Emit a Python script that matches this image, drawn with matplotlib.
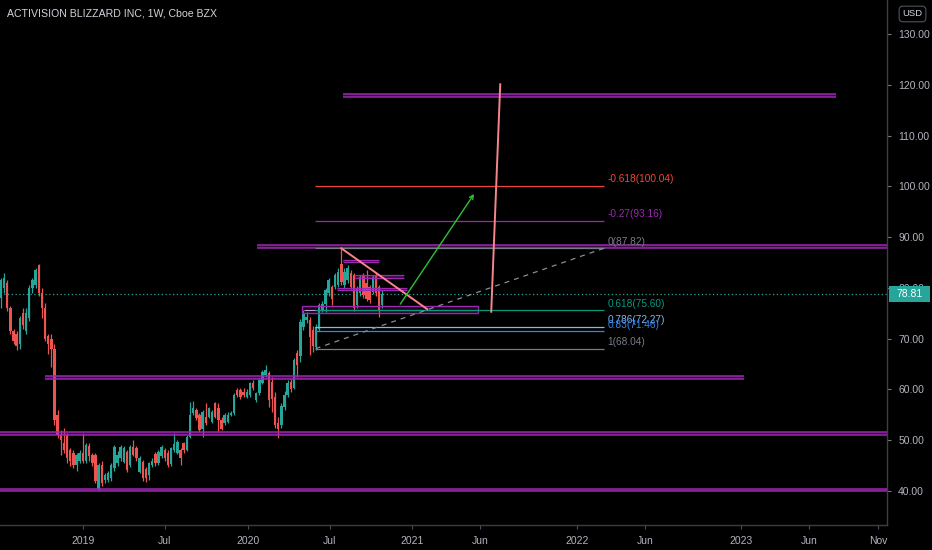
import matplotlib
matplotlib.use("Agg")
import matplotlib.pyplot as plt
import matplotlib.dates as mdates
import matplotlib.transforms as mtransforms
from matplotlib.patches import Rectangle
import numpy as np
import pandas as pd

plt.rcParams['font.family'] = ['Liberation Sans', 'DejaVu Sans']

# ---------------- data ----------------
title = "ACTIVISION BLIZZARD INC, 1W, Cboe BZX"
first_week = "2018-07-02"

opens = [78.0, 80.0, 81.0, 76.0, 71.5, 71.0, 69.0, 75.0, 71.5, 74.0,
         80.0, 80.5, 84.5, 79.0, 76.0, 70.5, 70.0, 68.0, 55.0, 51.0,
         49.5, 51.0, 48.0, 47.5, 45.2, 46.0, 47.5, 46.0, 48.8, 47.0,
         47.0, 40.3, 45.1, 42.2, 42.2, 42.5, 44.5, 45.5, 46.4, 45.8,
         47.7, 45.1, 48.7, 48.4, 43.8, 45.8, 44.3, 43.1, 45.1, 47.3,
         45.5, 46.8, 48.1, 47.5, 45.4, 48.1, 47.5, 48.1, 49.4, 48.1,
         50.7, 55.3, 55.9, 55.0, 52.3, 54.6, 54.6, 53.6, 57.3, 56.3,
         54.0, 53.3, 53.6, 55.0, 55.3, 59.9, 59.9, 59.5, 58.6, 58.9,
         61.2, 57.9, 59.2, 61.2, 62.8, 63.2, 61.5, 58.5, 53.3, 53.0,
         56.5, 59.0, 61.5, 60.3, 67.2, 66.5, 72.3, 73.7, 73.7, 71.7,
         68.4, 72.0, 75.6, 76.9, 78.9, 80.2, 80.2, 80.6, 84.8, 80.6,
         81.5, 82.9, 82.5, 76.6, 78.9, 82.5, 80.9, 80.2, 79.2, 82.5,
         80.2, 76.6]
highs = [82.0, 83.0, 81.5, 76.5, 72.0, 71.5, 74.5, 76.0, 76.0, 80.5,
         82.0, 84.0, 84.7, 80.0, 77.0, 71.0, 71.0, 69.0, 56.0, 52.0,
         52.5, 51.5, 48.5, 48.0, 47.5, 48.0, 51.5, 49.5, 49.5, 47.5,
         47.5, 45.5, 46.0, 43.5, 44.0, 45.5, 49.0, 47.8, 49.0, 48.8,
         48.1, 49.0, 50.0, 48.8, 46.8, 46.2, 44.8, 45.8, 46.5, 47.6,
         48.0, 49.0, 48.4, 48.0, 48.7, 51.5, 50.0, 48.5, 49.7, 51.0,
         57.5, 57.8, 56.3, 55.3, 56.0, 57.3, 56.6, 56.0, 57.6, 57.3,
         54.5, 55.3, 55.5, 55.8, 59.3, 60.3, 60.2, 60.3, 60.0, 61.5,
         61.8, 59.5, 62.2, 63.8, 64.8, 63.6, 62.5, 59.5, 54.5, 57.3,
         59.6, 61.9, 62.0, 66.2, 67.8, 73.8, 75.6, 75.2, 74.3, 72.5,
         72.8, 77.0, 77.5, 80.0, 82.0, 80.6, 83.0, 84.0, 87.8, 84.0,
         84.5, 83.5, 83.0, 80.3, 82.6, 83.0, 83.5, 80.6, 82.6, 83.0,
         80.6, 79.5]
lows = [76.0, 79.0, 75.5, 71.0, 69.0, 67.8, 68.0, 72.0, 71.0, 73.5,
        79.0, 80.0, 78.5, 74.0, 69.5, 67.0, 64.5, 53.0, 50.5, 47.0,
        47.5, 45.5, 45.0, 44.5, 44.0, 45.5, 45.5, 45.5, 46.0, 45.0,
        41.5, 39.9, 41.0, 41.5, 41.8, 42.0, 44.0, 45.0, 46.0, 45.5,
        43.8, 44.8, 46.8, 46.0, 43.5, 42.0, 41.8, 42.2, 44.8, 45.0,
        45.2, 46.5, 46.0, 44.8, 45.0, 47.6, 47.2, 45.1, 47.5, 47.8,
        50.5, 55.0, 54.0, 51.7, 50.7, 53.0, 54.3, 53.3, 54.3, 51.7,
        52.0, 53.0, 53.3, 54.7, 55.0, 58.5, 58.2, 58.5, 58.3, 58.6,
        59.8, 57.5, 59.0, 61.0, 62.5, 56.5, 55.5, 52.5, 50.4, 52.5,
        56.0, 58.5, 59.4, 60.0, 62.5, 65.5, 71.8, 73.0, 66.8, 67.4,
        67.8, 71.5, 75.2, 75.3, 78.5, 76.6, 79.8, 80.2, 80.5, 80.0,
        81.0, 79.8, 75.5, 76.0, 78.5, 78.0, 77.5, 77.0, 78.8, 78.5,
        74.3, 76.0]
closes = [81.5, 82.0, 76.0, 71.5, 69.5, 68.5, 74.0, 72.7, 75.0, 80.0,
          81.5, 83.5, 79.0, 76.0, 70.0, 69.0, 68.0, 54.0, 51.0, 50.0,
          48.0, 46.5, 46.0, 45.2, 47.0, 47.5, 46.0, 49.0, 46.8, 45.5,
          42.0, 45.1, 41.5, 43.1, 43.5, 45.1, 48.7, 47.1, 48.7, 48.4,
          44.1, 48.7, 47.1, 46.4, 46.4, 42.5, 42.6, 45.5, 46.0, 45.5,
          47.7, 48.7, 46.5, 45.1, 48.4, 49.3, 49.7, 46.4, 48.1, 50.7,
          55.0, 56.3, 54.3, 52.0, 55.6, 53.3, 56.3, 55.6, 54.6, 54.0,
          52.3, 55.0, 55.0, 55.3, 58.9, 58.9, 58.6, 58.9, 59.5, 61.2,
          60.2, 59.2, 61.9, 63.5, 63.8, 58.0, 58.2, 53.0, 52.3, 56.8,
          59.0, 61.2, 60.0, 65.8, 64.8, 73.3, 75.0, 74.3, 70.4, 68.5,
          72.3, 76.6, 76.9, 79.6, 81.5, 77.9, 82.5, 83.2, 81.2, 83.2,
          84.0, 80.2, 76.0, 79.9, 82.2, 78.6, 77.9, 77.6, 82.2, 78.9,
          75.6, 78.81]
last_price = 78.81

# horizontal zones drawn by the author: (start, end, low, high); None = chart edge
zone_starts = ["2020-07-31", "2020-01-22", "2018-10-09", None, None]
zone_ends = ["2023-07-31", None, "2023-01-07", None, None]
zone_lows = [117.5, 87.8, 62.15, 51.0, 39.9]
zone_highs = [118.2, 88.4, 62.6, 51.55, 40.45]

# short purple rays inside the 2020 range
ray_starts = ["2020-07-31", "2020-08-27", "2020-07-18"]
ray_ends = ["2020-10-19", "2020-12-13", "2020-12-20"]
ray_prices = [85.3, 82.2, 79.8]

# consolidation box
box_start, box_end = "2020-05-01", "2021-05-27"
box_low, box_high, box_mid = 75.05, 76.4, 75.7

# fibonacci levels
fib_start, fib_end = "2020-05-29", "2022-03-03"
fib_ratios = ["-0.618", "-0.27", "0", "0.618", "0.786", "0.83", "1"]
fib_prices = [100.04, 93.16, 87.82, 75.60, 72.27, 71.46, 68.04]
fib_colors = ["#f0473c", "#9c27b0", "#787b86", "#089981", "#7fb6f5", "#2e86f0", "#787b86"]

# trend line of the fib (1 -> 0)
trend_dates = ["2020-05-31", "2022-03-03"]
trend_prices = [68.04, 87.82]

# pink lines
tri_end_date, tri_end_price = "2021-02-03", 75.8
tall_dates = ["2021-06-25", "2021-07-15"]
tall_prices = [75.3, 120.1]

# green arrow
arrow_dates = ["2020-12-05", "2021-05-18"]
arrow_prices = [76.8, 98.5]

x_tick_dates = ["2019-01-01", "2019-07-01", "2020-01-01", "2020-07-01", "2021-01-01",
                "2021-06-01", "2022-01-01", "2022-06-01", "2023-01-01", "2023-06-01",
                "2023-11-01"]
x_tick_labels = ["2019", "Jul", "2020", "Jul", "2021", "Jun", "2022", "Jun", "2023", "Jun", "Nov"]
y_ticks = [40, 50, 60, 70, 80, 90, 100, 110, 120, 130]

x_range = ["2018-06-30", "2023-11-21"]
y_range = [33.3, 136.7]

# ---------------- styling ----------------
BG = "#000000"
TEAL = "#26a69a"
RED = "#ef5350"
PURPLE = "#9c27b0"
TXT = "#b2b5be"
AXC = "#3a3e48"
PINK = "#f7868a"
GREEN = "#2fc22f"

def dn(s):
    return mdates.date2num(pd.Timestamp(s))

W, H = 932, 550
fig = plt.figure(figsize=(W / 100, H / 100), dpi=100, facecolor=BG)
ax = fig.add_axes([0, 25 / H, 887 / W, 525 / H], facecolor=BG)
ax.set_xlim(dn(x_range[0]), dn(x_range[1]))
ax.set_ylim(*y_range)
x0, x1 = ax.get_xlim()

# candles
dates = pd.date_range(first_week, periods=len(closes), freq="7D")
xs = mdates.date2num(dates)
o = np.array(opens); h = np.array(highs); l = np.array(lows); c = np.array(closes)
cols = np.where(c >= o, TEAL, RED)
ax.vlines(xs, l, h, colors=cols, linewidth=0.9, zorder=2)
ax.bar(xs, np.maximum(np.abs(c - o), 0.25), bottom=np.minimum(o, c), width=5.4,
       color=cols, linewidth=0, zorder=3)

# last price dotted line
ax.axhline(last_price, color=TEAL, linestyle=(0, (1, 2)), linewidth=0.9, zorder=1)

# horizontal zones
for s, e, lo, hi in zip(zone_starts, zone_ends, zone_lows, zone_highs):
    xa = dn(s) if s else x0
    xb = dn(e) if e else x1
    ax.add_patch(Rectangle((xa, lo), xb - xa, hi - lo, facecolor=PURPLE, alpha=0.35,
                           edgecolor="none", zorder=4))
    ax.hlines([lo, hi], xa, xb, colors=PURPLE, linewidth=1.1, zorder=5)

# short rays (thin double lines)
for s, e, p in zip(ray_starts, ray_ends, ray_prices):
    ax.add_patch(Rectangle((dn(s), p - 0.25), dn(e) - dn(s), 0.5, facecolor=PURPLE,
                           alpha=0.35, edgecolor="none", zorder=4))
    ax.hlines([p - 0.25, p + 0.25], dn(s), dn(e), colors=PURPLE, linewidth=0.9, zorder=5)

# box
ax.add_patch(Rectangle((dn(box_start), box_low), dn(box_end) - dn(box_start), box_high - box_low,
                       facecolor=PURPLE, alpha=0.12, edgecolor="none", zorder=4))
ax.add_patch(Rectangle((dn(box_start), box_low), dn(box_end) - dn(box_start), box_high - box_low,
                       facecolor="none", edgecolor=PURPLE, linewidth=1.0, zorder=5))
ax.hlines(box_mid, dn(box_start) + 5, dn(box_end), colors="#b9a0d8", linewidth=0.8, zorder=5)

# fib levels
for r, p, col in zip(fib_ratios, fib_prices, fib_colors):
    ax.hlines(p, dn(fib_start), dn(fib_end), colors=col, linewidth=0.9, zorder=6)
    ax.annotate(f"{r}({p:.2f})", xy=(dn(fib_end), p), xytext=(2.5, 1.2),
                textcoords="offset points", ha="left", va="bottom",
                color=col, fontsize=7.3, zorder=7)

# fib trend line
ax.plot([dn(d) for d in trend_dates], trend_prices, color="#8a8d96",
        linestyle=(0, (4, 4)), linewidth=0.9, zorder=6)

# pink lines
ax.plot([xs[int(np.argmax(h))], dn(tri_end_date)], [h.max(), tri_end_price],
        color=PINK, linewidth=1.4, zorder=7)
ax.plot([dn(d) for d in tall_dates], tall_prices, color=PINK, linewidth=1.4, zorder=7)

# green arrow
ax.annotate("", xy=(dn(arrow_dates[1]), arrow_prices[1]),
            xytext=(dn(arrow_dates[0]), arrow_prices[0]),
            arrowprops=dict(arrowstyle="->", color=GREEN, lw=1.0,
                            mutation_scale=7, shrinkA=0, shrinkB=0), zorder=7)

# axes styling
for sp in ["top", "left"]:
    ax.spines[sp].set_visible(False)
for sp in ["right", "bottom"]:
    ax.spines[sp].set_color(AXC)
    ax.spines[sp].set_linewidth(1.0)

ax.yaxis.tick_right()
ax.set_yticks(y_ticks)
ax.set_yticklabels([f"{v:.2f}" for v in y_ticks])
ax.set_xticks([dn(d) for d in x_tick_dates])
ax.set_xticklabels(x_tick_labels)
ax.tick_params(axis="y", colors=TXT, labelsize=7.5, length=3, width=0.8, pad=5,
               color="#787b86")
ax.tick_params(axis="x", colors=TXT, labelsize=7.5, length=3, width=0.8, pad=5,
               color="#4a4e58")

# last price label on the axis
blend = mtransforms.blended_transform_factory(ax.transAxes, ax.transData)
ax.add_patch(Rectangle((889 / 887, last_price - 1.6), 41 / 887, 3.2, transform=blend,
                       facecolor=TEAL, edgecolor="none", clip_on=False, zorder=10))
ax.text(909.5 / 887, last_price, f"{last_price:.2f}", transform=blend, ha="center",
        va="center", color="white", fontsize=7.5, zorder=11, clip_on=False)

# title and currency box
fig.text(7 / W, 1 - 14 / H, title, ha="left", va="center", color="#d1d4dc", fontsize=7.6)
fig.text(912.5 / W, 1 - 14 / H, "USD", ha="center", va="center", color="#d1d4dc",
         fontsize=6.8,
         bbox=dict(boxstyle="round,pad=0.35,rounding_size=0.4", facecolor=BG,
                   edgecolor="#50535e", linewidth=0.8))

fig.savefig("out.png", dpi=100, facecolor=BG)
